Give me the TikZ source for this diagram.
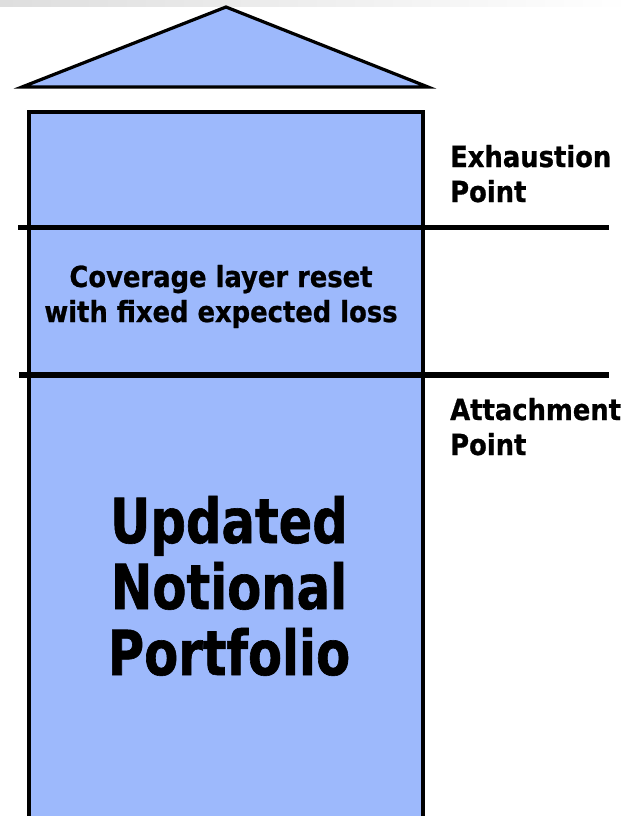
\documentclass[tikz,border=0pt]{standalone}
\usepackage{fontspec}
\newfontfamily\labelfont{DejaVu Sans}[FakeStretch=0.89, FakeBold=0.8]
\newfontfamily\bigfont{DejaVu Sans}[FakeStretch=0.8, FakeBold=1.0]
\definecolor{layerblue}{RGB}{157,185,252}
\tikzset{
  outline/.style={draw=black, line width=3.2pt, fill=layerblue, line join=miter},
  levelline/.style={draw=black, line width=5.5pt},
  % multi-line nodes: the base anchor sits on the last line
  sidelabel/.style={inner sep=0pt, align=left, anchor=base west,
    font=\labelfont\bfseries\fontsize{29}{35}\selectfont},
  layerlabel/.style={inner sep=0pt, align=center, anchor=base,
    font=\labelfont\bfseries\fontsize{29}{35}\selectfont},
  poollabel/.style={inner sep=0pt, align=center, anchor=base,
    font=\bigfont\bfseries\fontsize{62}{66}\selectfont}
}
\begin{document}
\begin{tikzpicture}[x=1pt, y=-1pt]
  \useasboundingbox (0,0) rectangle (641,816);
  \clip (0,0) rectangle (641,816);
  % faint header band
  \shade[left color=black!13, right color=white] (0,0) rectangle (630,7);
  % roof
  \draw[outline] (22,87) -- (226,7) -- (428,87) -- cycle;
  % column (runs past the lower edge)
  \draw[outline] (29,830) -- (29,112) -- (423,112) -- (423,830);
  % exhaustion and attachment levels
  \coordinate (exL) at (18,227.5);
  \coordinate (exR) at (609,227.5);
  \coordinate (atL) at (19,375);
  \coordinate (atR) at (609,375);
  \draw[levelline] (exL) -- (exR);
  \draw[levelline] (atL) -- (atR);
  % labels
  \node[sidelabel] (exh) at (450,202) {Exhaustion\\Point};
  \node[sidelabel] (att) at (450,455) {Attachment\\Point};
  \node[layerlabel] (layer) at (221,322) {Coverage layer reset\\with fixed expected loss};
  \node[poollabel] (pool) at (229,675) {Updated\\Notional\\Portfolio};
\end{tikzpicture}
\end{document}
